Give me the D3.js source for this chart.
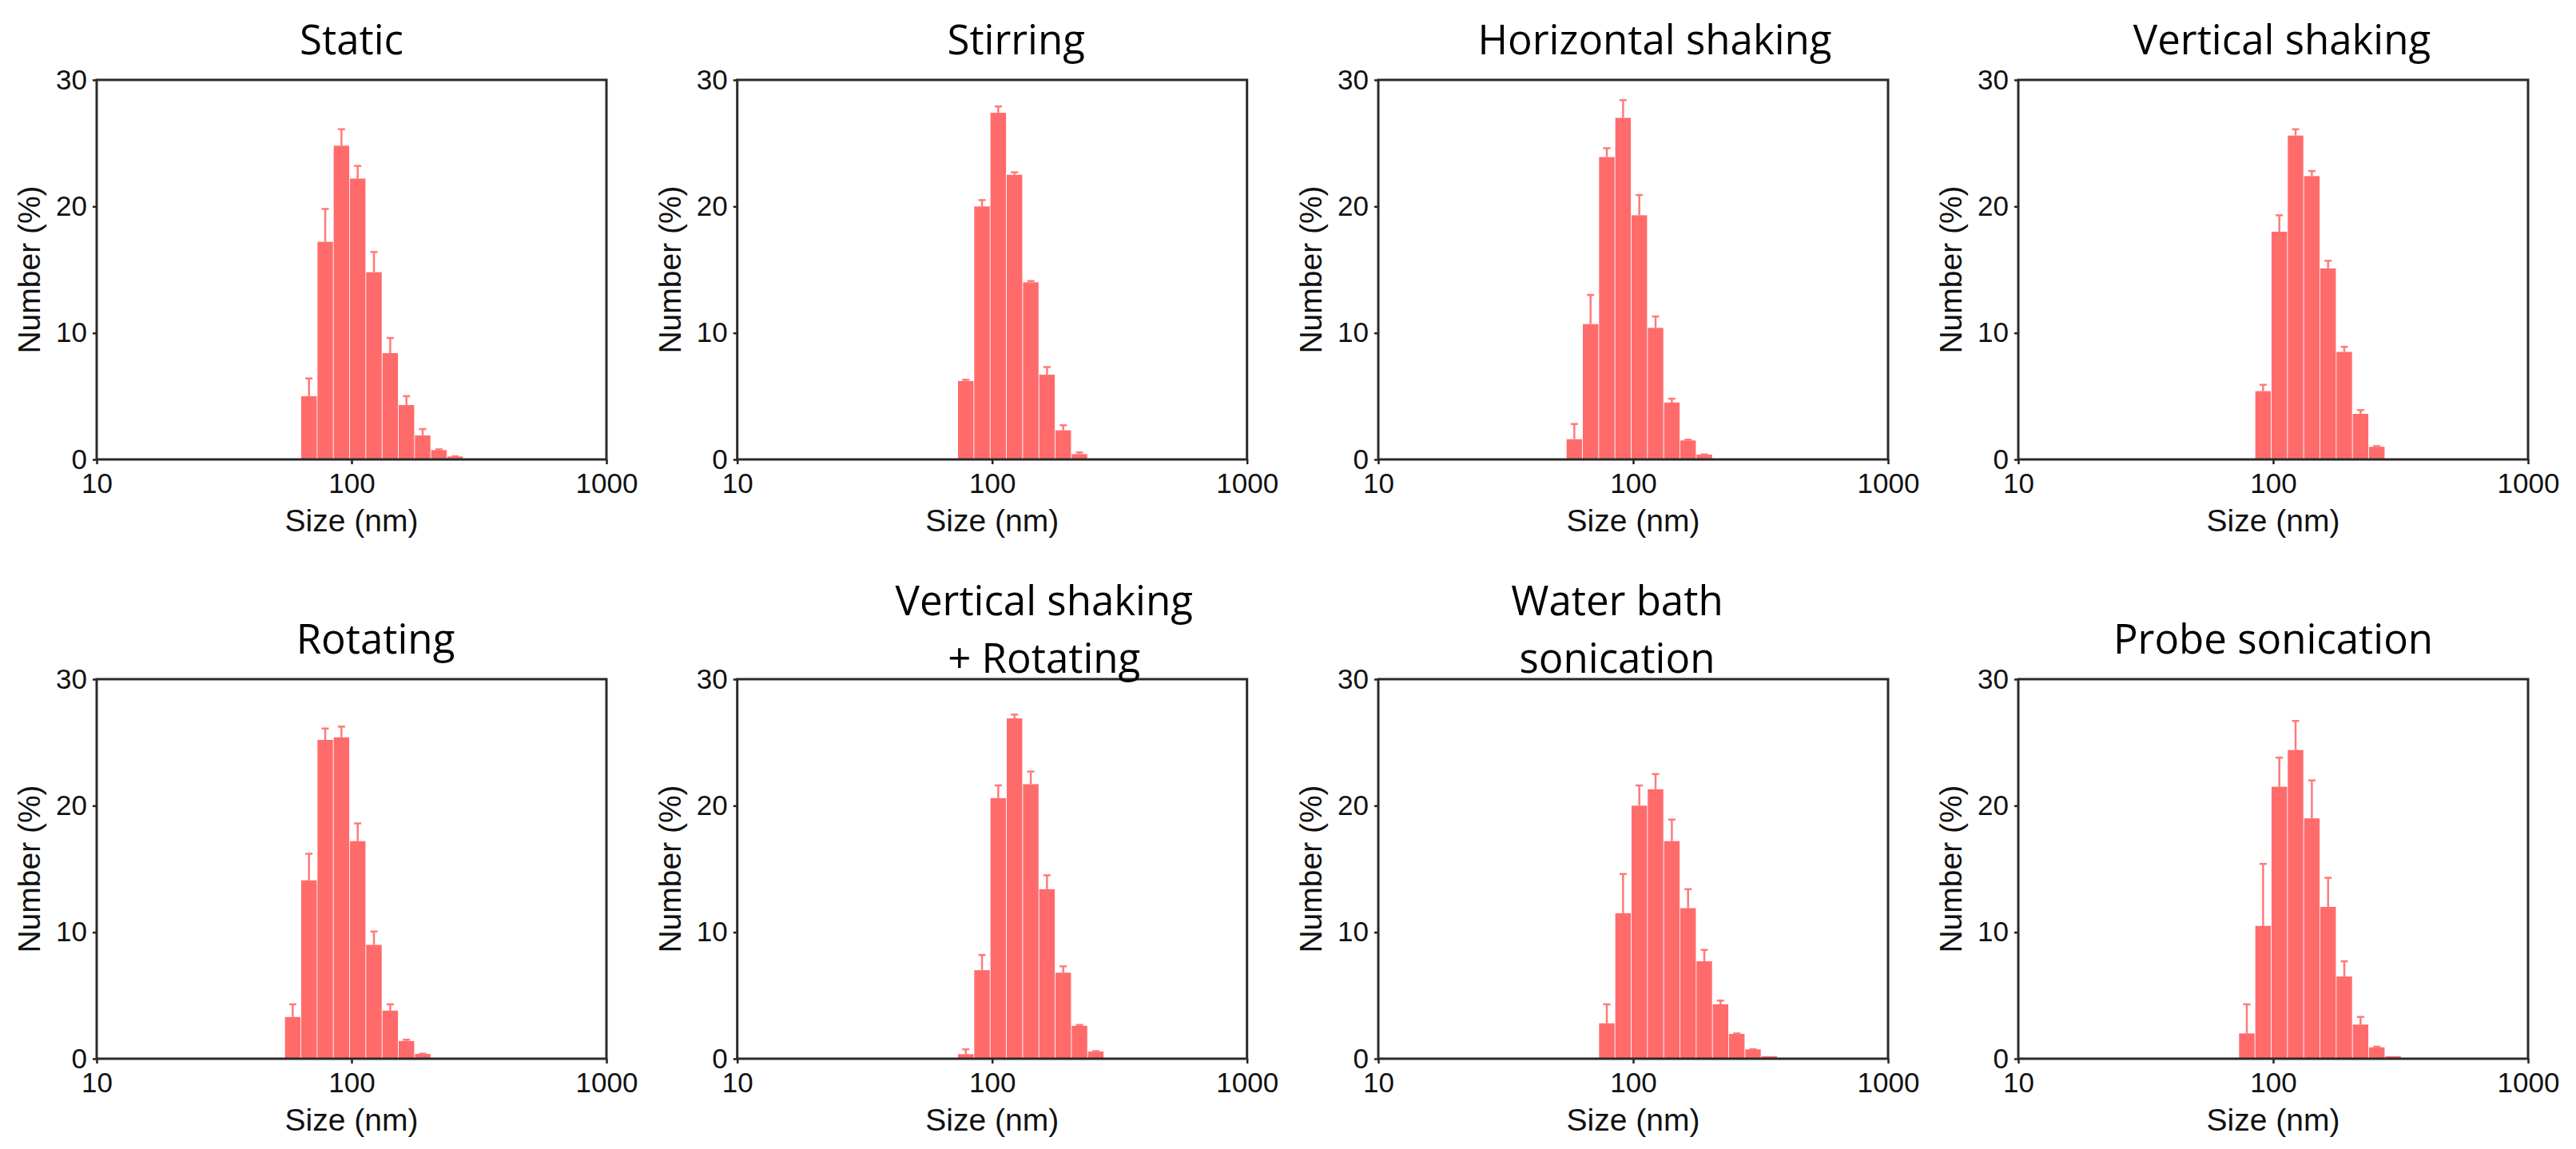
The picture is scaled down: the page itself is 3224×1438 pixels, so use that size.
<!DOCTYPE html>
<html lang="en">
    <head>
        <title>Size distributions by mixing method</title>
        <meta charset="utf-8">
        <script src="https://d3js.org/d3.v7.min.js"></script>
        <style>
            body {
                margin: 0;
                padding: 0;
                background-color: white;
                overflow: hidden;
            }
            .tick text {
                font-family: "Liberation Sans", Arial, sans-serif;
                font-size: 35px;
                fill: #111;
            }
            .tick line {
                stroke: #222;
                stroke-width: 2.5;
            }
            .title {
                font-family: "Open Sans", sans-serif;
                font-size: 51px;
                fill: #000;
            }
            .axis-label {
                font-family: "Liberation Sans", Arial, sans-serif;
                font-size: 39px;
                fill: #111;
            }
        </style>
    </head>
    <body>
    <div id="container"></div>
    <script>

        // DLS size bins (nm)
        const sizeBins = [58.77, 68.06, 78.82, 91.28, 105.7, 122.4, 141.8, 164.2, 190.1, 220.2, 255.0, 295.3, 342.0];

        const titles = [
            ["Static"],
            ["Stirring"],
            ["Horizontal shaking"],
            ["Vertical shaking"],
            ["Rotating"],
            ["Vertical shaking", "+ Rotating"],
            ["Water bath", "sonication"],
            ["Probe sonication"]
        ];

        // Number (%) per bin
        const staticVals     = [0, 5.0, 17.2, 24.8, 22.2, 14.8, 8.4, 4.3, 1.9, 0.74, 0.23, 0, 0];
        const stirringVals   = [0, 0, 6.2, 20.0, 27.4, 22.5, 14.0, 6.7, 2.3, 0.42, 0, 0, 0];
        const horizontalVals = [1.6, 10.7, 23.9, 27.0, 19.3, 10.4, 4.5, 1.5, 0.38, 0, 0, 0, 0];
        const verticalVals   = [0, 0, 0, 5.4, 18.0, 25.6, 22.4, 15.1, 8.5, 3.6, 1.0, 0, 0];
        const rotatingVals   = [3.3, 14.1, 25.2, 25.4, 17.2, 9.0, 3.8, 1.4, 0.38, 0, 0, 0, 0];
        const vertRotVals    = [0, 0, 0.36, 7.0, 20.6, 26.9, 21.7, 13.4, 6.8, 2.6, 0.57, 0, 0];
        const waterBathVals  = [0, 0, 2.8, 11.5, 20.0, 21.3, 17.2, 11.9, 7.7, 4.3, 1.96, 0.74, 0.2];
        const probeVals      = [0, 0, 2.0, 10.5, 21.5, 24.4, 19.0, 12.0, 6.5, 2.7, 0.9, 0.2, 0];

        // upper error (SD) per bin
        const staticErr     = [0, 1.4, 2.6, 1.3, 1.0, 1.6, 1.2, 0.7, 0.5, 0.06, 0.02, 0, 0];
        const stirringErr   = [0, 0, 0.1, 0.5, 0.5, 0.2, 0.1, 0.6, 0.4, 0.13, 0, 0, 0];
        const horizontalErr = [1.2, 2.3, 0.7, 1.4, 1.6, 0.9, 0.3, 0.06, 0.02, 0, 0, 0, 0];
        const verticalErr   = [0, 0, 0, 0.5, 1.3, 0.5, 0.4, 0.6, 0.4, 0.3, 0.05, 0, 0];
        const rotatingErr   = [1.0, 2.1, 0.9, 0.85, 1.4, 1.05, 0.5, 0.1, 0.02, 0, 0, 0, 0];
        const vertRotErr    = [0, 0, 0.38, 1.2, 1.0, 0.3, 1.0, 1.1, 0.5, 0.07, 0.03, 0, 0];
        const waterBathErr  = [0, 0, 1.5, 3.1, 1.6, 1.2, 1.7, 1.5, 0.9, 0.3, 0.04, 0.01, 0];
        const probeErr      = [0, 0, 2.3, 4.9, 2.3, 2.3, 3.0, 2.3, 1.2, 0.6, 0.05, 0, 0];

        const xTicks = [10, 100, 1000];
        const yTicks = [0, 10, 20, 30];

        const panelVals = [staticVals, stirringVals, horizontalVals, verticalVals,
                           rotatingVals, vertRotVals, waterBathVals, probeVals];
        const panelErr = [staticErr, stirringErr, horizontalErr, verticalErr,
                          rotatingErr, vertRotErr, waterBathErr, probeErr];

        const w = 3224;
        const h = 1438;
        const plotW = 638;
        const plotH = 475;
        const colLeft = [121, 922.7, 1725, 2526];
        const rowTop = [100, 850];
        const titleNudge = [0, 30, 27, 11, 30, 65, -20, 0];
        const barColor = "#ff6b6b";
        const errColor = "#ff7a7a";
        const gap = 0.9;

        const svg = d3.select("#container")
            .append("svg")
            .attr("width", w)
            .attr("height", h);

        const xScale = d3.scaleLog()
            .domain([10, 1000])
            .range([0, plotW]);

        const yScale = d3.scaleLinear()
            .domain([0, 30])
            .range([plotH, 0]);

        const ratio = Math.pow(sizeBins[sizeBins.length - 1] / sizeBins[0], 1 / (sizeBins.length - 1));
        const half = Math.sqrt(ratio);

        panelVals.forEach((vals, p) => {
            const col = p % 4;
            const row = Math.floor(p / 4);
            const g = svg.append("g")
                .attr("transform", `translate(${colLeft[col]}, ${rowTop[row]})`);

            const rows = sizeBins.map((s, i) => ({ size: s, value: vals[i], err: panelErr[p][i] }))
                .filter(d => d.value > 0);

            g.selectAll("rect.bar")
                .data(rows)
                .enter()
                .append("rect")
                .attr("class", "bar")
                .attr("x", d => xScale(d.size / half) + gap / 2)
                .attr("width", d => xScale(d.size * half) - xScale(d.size / half) - gap)
                .attr("y", d => yScale(d.value))
                .attr("height", d => plotH - yScale(d.value))
                .attr("fill", barColor);

            const errRows = rows.filter(d => d.err > 0);

            g.selectAll("line.err")
                .data(errRows)
                .enter()
                .append("line")
                .attr("class", "err")
                .attr("x1", d => xScale(d.size))
                .attr("x2", d => xScale(d.size))
                .attr("y1", d => yScale(d.value))
                .attr("y2", d => yScale(d.value + d.err))
                .attr("stroke", errColor)
                .attr("stroke-width", 2.5);

            g.selectAll("line.cap")
                .data(errRows)
                .enter()
                .append("line")
                .attr("class", "cap")
                .attr("x1", d => xScale(d.size) - 4.5)
                .attr("x2", d => xScale(d.size) + 4.5)
                .attr("y1", d => yScale(d.value + d.err))
                .attr("y2", d => yScale(d.value + d.err))
                .attr("stroke", errColor)
                .attr("stroke-width", 2.5);

            const xAxis = d3.axisBottom(xScale)
                .tickValues(xTicks)
                .tickFormat(d3.format("d"))
                .tickSizeOuter(0)
                .tickSize(6)
                .tickPadding(11);

            g.append("g")
                .attr("transform", `translate(0, ${plotH})`)
                .call(xAxis)
                .call(a => a.select(".domain").remove());

            const yAxis = d3.axisLeft(yScale)
                .tickValues(yTicks)
                .tickSizeOuter(0)
                .tickSize(5)
                .tickPadding(7);

            g.append("g")
                .call(yAxis)
                .call(a => a.select(".domain").remove());

            g.append("rect")
                .attr("width", plotW)
                .attr("height", plotH)
                .attr("fill", "none")
                .attr("stroke", "#2a2a2a")
                .attr("stroke-width", 3);

            g.append("text")
                .attr("class", "axis-label")
                .attr("x", plotW / 2)
                .attr("y", plotH + 90)
                .attr("text-anchor", "middle")
                .text("Size (nm)");

            g.append("text")
                .attr("class", "axis-label")
                .attr("transform", `translate(-71, ${plotH / 2}) rotate(-90)`)
                .attr("text-anchor", "middle")
                .text("Number (%)");

            const lines = titles[p];
            const firstBase = lines.length > 1 ? -80 : -32;
            g.append("text")
                .attr("class", "title")
                .attr("text-anchor", "middle")
                .selectAll("tspan")
                .data(lines)
                .enter()
                .append("tspan")
                .attr("x", plotW / 2 + titleNudge[p])
                .attr("y", (d, i) => firstBase + i * 72)
                .text(d => d);
        });

    </script>
    </body>
</html>
